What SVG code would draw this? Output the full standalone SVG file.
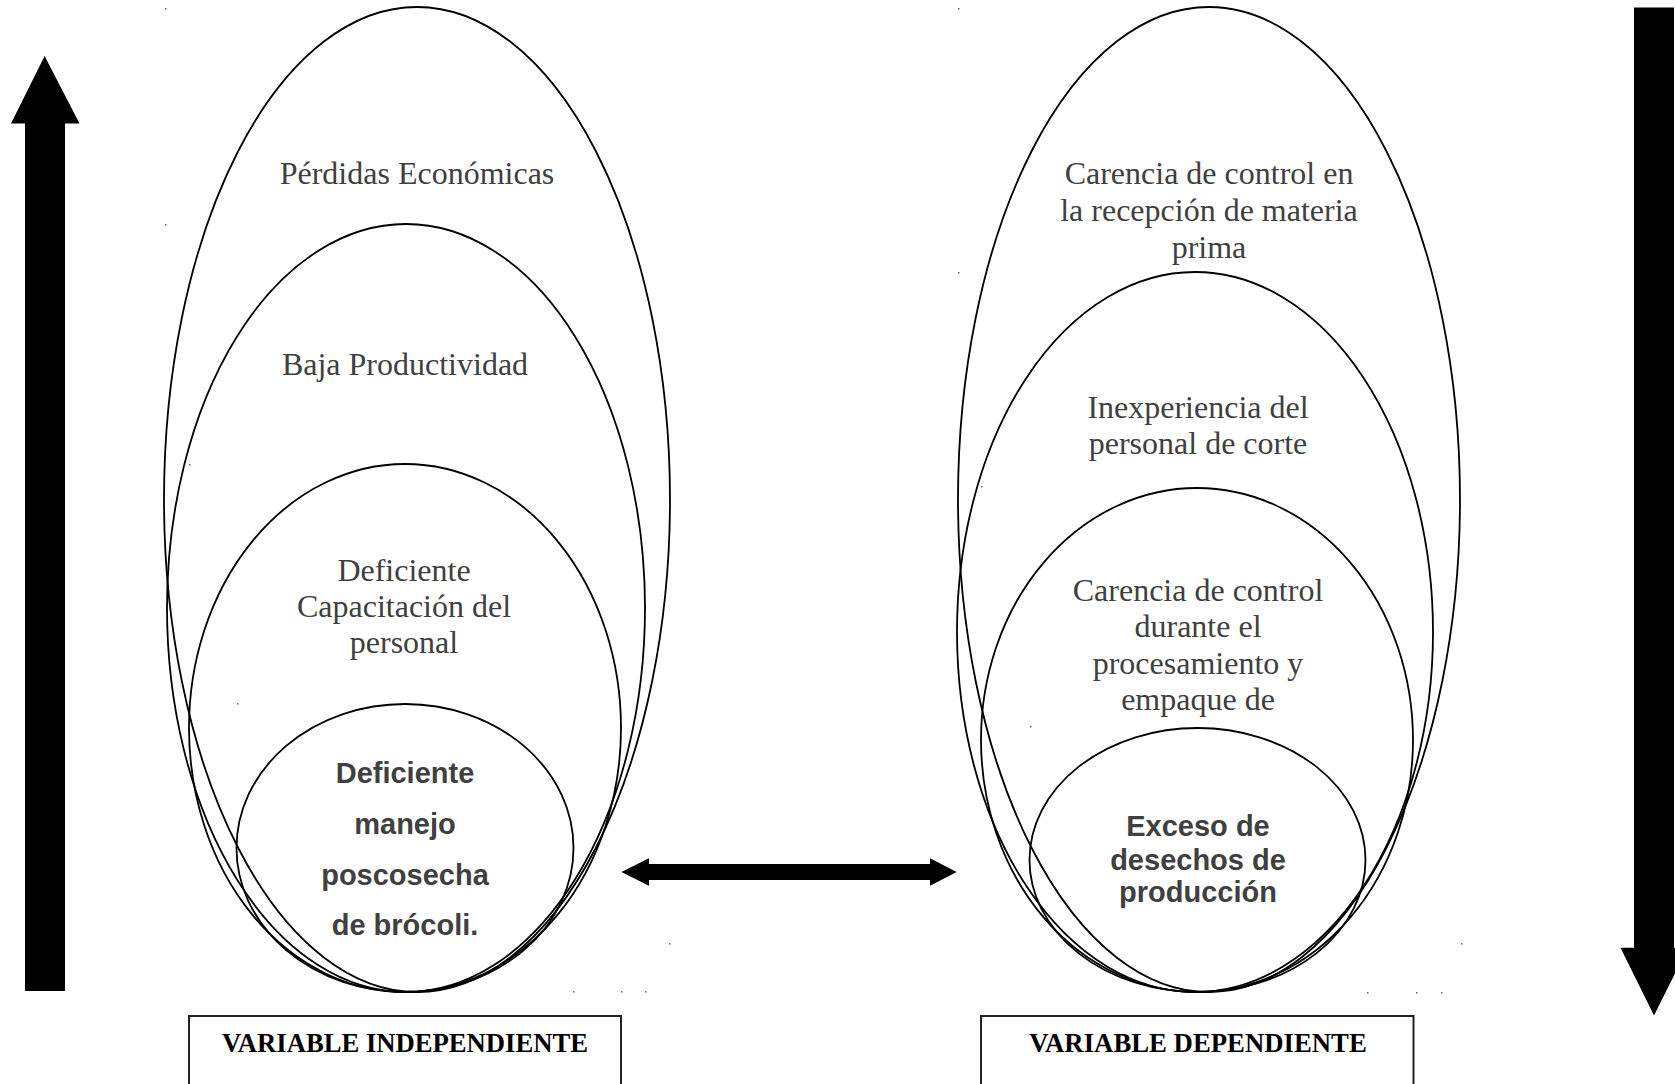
<svg xmlns="http://www.w3.org/2000/svg" width="1675" height="1084" viewBox="0 0 1675 1084">
<style>
.ell{fill:none;stroke:#000;stroke-width:1.8}
.t{font-family:"Liberation Serif","Times New Roman",serif;font-size:32px;fill:#404040;text-anchor:middle}
.b{font-family:"Liberation Sans",Arial,sans-serif;font-size:29px;font-weight:bold;fill:#404040;text-anchor:middle}
.box{fill:#fff;stroke:#222;stroke-width:2}
.bt{font-family:"Liberation Serif","Times New Roman",serif;font-size:28px;font-weight:bold;fill:#000;text-anchor:middle}
.arr{fill:#000}
.dot{fill:#666}
</style>
<rect width="1675" height="1084" fill="#fff"/>
<g id="dots">
<rect class="dot" x="165" y="8" width="1.5" height="1.5"/>
<rect class="dot" x="165" y="224" width="1.5" height="1.5"/>
<rect class="dot" x="189" y="464" width="1.5" height="1.5"/>
<rect class="dot" x="237" y="703" width="1.5" height="1.5"/>
<rect class="dot" x="669" y="943" width="1.5" height="1.5"/>
<rect class="dot" x="573" y="991" width="1.5" height="1.5"/>
<rect class="dot" x="621" y="991" width="1.5" height="1.5"/>
<rect class="dot" x="645" y="991" width="1.5" height="1.5"/>
<rect class="dot" x="958" y="8" width="1.5" height="1.5"/>
<rect class="dot" x="958" y="272" width="1.5" height="1.5"/>
<rect class="dot" x="981" y="486" width="1.5" height="1.5"/>
<rect class="dot" x="1030" y="726" width="1.5" height="1.5"/>
<rect class="dot" x="1461" y="943" width="1.5" height="1.5"/>
<rect class="dot" x="1367" y="992" width="1.5" height="1.5"/>
<rect class="dot" x="1416" y="992" width="1.5" height="1.5"/>
<rect class="dot" x="1441" y="992" width="1.5" height="1.5"/>
</g>
<g id="arrow-up">
<polygon class="arr" points="44.6,56 79.5,123.6 65,123.6 65,991 25,991 25,123.6 11,123.6"/>
</g>
<g id="arrow-down">
<polygon class="arr" points="1634,7.5 1674,7.5 1674,947.7 1688,947.7 1654,1015.4 1620.5,947.7 1634,947.7"/>
</g>
<g id="left-1">
<ellipse class="ell" cx="417" cy="499.5" rx="253" ry="492.5"/>
<text class="t" x="417" y="184">Pérdidas Económicas</text>
</g>
<g id="left-2">
<ellipse class="ell" cx="406" cy="608" rx="239" ry="384"/>
<text class="t" x="405" y="375">Baja Productividad</text>
</g>
<g id="left-3">
<ellipse class="ell" cx="405" cy="728" rx="216" ry="264"/>
<text class="t" x="404" y="581">Deficiente</text>
<text class="t" x="404" y="617">Capacitación del</text>
<text class="t" x="404" y="653">personal</text>
</g>
<g id="left-4">
<ellipse class="ell" cx="405" cy="848" rx="168.5" ry="144"/>
<text class="b" x="405" y="783">Deficiente</text>
<text class="b" x="405" y="834">manejo</text>
<text class="b" x="405" y="884.5">poscosecha</text>
<text class="b" x="405" y="935">de brócoli.</text>
</g>
<g id="right-1">
<ellipse class="ell" cx="1209" cy="499.5" rx="251" ry="492.5"/>
<text class="t" x="1209" y="184">Carencia de control en</text>
<text class="t" x="1209" y="221">la recepción de materia</text>
<text class="t" x="1209" y="258">prima</text>
</g>
<g id="right-2">
<ellipse class="ell" cx="1195" cy="632" rx="238" ry="360"/>
<text class="t" x="1198" y="418">Inexperiencia del</text>
<text class="t" x="1198" y="454">personal de corte</text>
</g>
<g id="right-3">
<ellipse class="ell" cx="1197" cy="740" rx="216" ry="252"/>
<text class="t" x="1198" y="601">Carencia de control</text>
<text class="t" x="1198" y="637">durante el</text>
<text class="t" x="1198" y="674">procesamiento y</text>
<text class="t" x="1198" y="710">empaque de</text>
</g>
<g id="right-4">
<ellipse class="ell" cx="1197.5" cy="860" rx="168" ry="132"/>
<text class="b" x="1198" y="835.5">Exceso de</text>
<text class="b" x="1198" y="869.5">desechos de</text>
<text class="b" x="1198" y="902">producción</text>
</g>
<g id="connectors">
<polygon class="arr" points="621.5,872 649,858.3 649,864 930,864 930,858.3 956.7,872 930,885.7 930,880 649,880 649,885.7"/>
</g>
<g id="box-independiente">
<rect class="box" x="189" y="1016" width="432" height="80"/>
<text class="bt" x="405" y="1052" textLength="366" lengthAdjust="spacingAndGlyphs">VARIABLE INDEPENDIENTE</text>
</g>
<g id="box-dependiente">
<rect class="box" x="981" y="1016" width="432.5" height="80"/>
<text class="bt" x="1198" y="1052" textLength="337.6" lengthAdjust="spacingAndGlyphs">VARIABLE DEPENDIENTE</text>
</g>
</svg>
